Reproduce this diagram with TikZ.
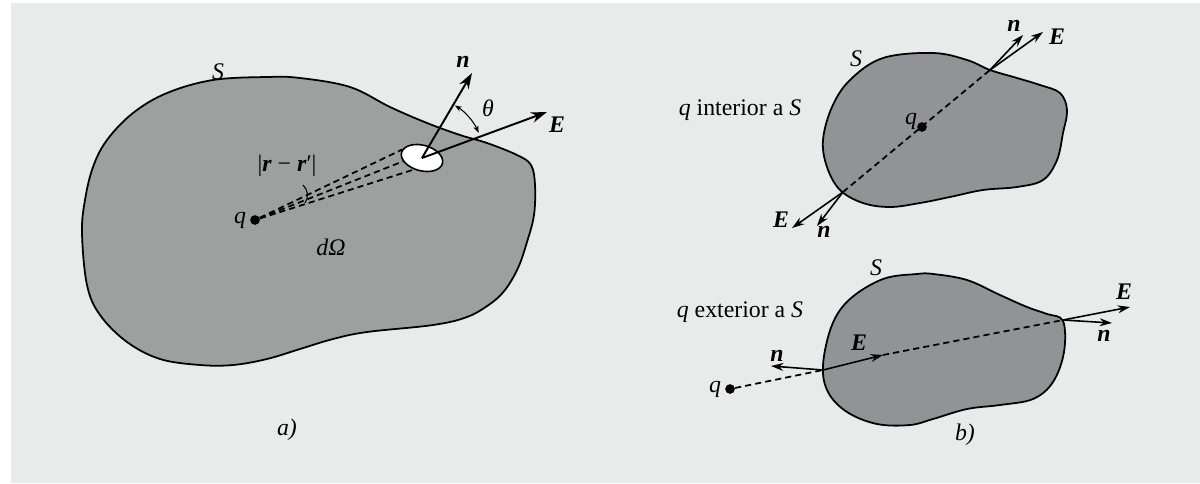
\documentclass[tikz,border=0pt]{standalone}
\usepackage{fontspec}
\setmainfont{Liberation Serif}
\usetikzlibrary{arrows.meta,positioning,shapes.geometric}

\definecolor{paper}{RGB}{233,234,234}
\definecolor{blobgray}{RGB}{156,160,159}
\definecolor{blobgrayb}{RGB}{146,147,150}

\newcommand{\bv}[1]{\textbf{\textit{#1}}}

\begin{document}
\begin{tikzpicture}[x=0.567pt,y=-0.567pt,
  lbl/.style={font=\fontsize{13.5}{16}\selectfont,inner sep=1pt},
  vec/.style={line width=1.1pt,-{Stealth[length=9pt,width=6pt]}},
  vecb/.style={line width=0.9pt,-{Stealth[length=7pt,width=4.5pt]}},
  ray/.style={line width=1pt,dash pattern=on 3.5pt off 2.3pt},
  surf/.style={line width=1pt,fill=blobgray},
  charge/.style={circle,fill=black,inner sep=0pt,minimum size=5.5pt}]
\useasboundingbox (0,0) rectangle (1200,483);
\fill[white] (0,0) rectangle (1200,483);
\fill[paper] (11,3) rectangle (1200,483);

% a) surface with charge inside
\draw[surf] plot[smooth cycle,tension=0.6] coordinates {
  (82,233) (85,200) (93,167) (107,140) (133,113) (167,93) (213,80) (267,77)
  (300,78) (350,87) (390,107) (427,123) (460,135) (487,143) (517,155)
  (531,165) (535,185) (534,215) (527,242) (518,268) (505,290) (490,304)
  (467,317) (433,325) (367,332) (333,339) (300,349) (267,359) (233,365)
  (200,365) (160,359) (127,342) (100,315) (87,285)};

\node[charge] (qa) at (255,220) {};
\node[lbl,left=1pt of qa] (qalbl) {\textit{q}};
\node[draw,ellipse,fill=white,line width=0.9pt,minimum width=24pt,
      minimum height=14.5pt,inner sep=0pt,rotate=-15] (hole) at (422,158) {};

\draw[ray] (qa) -- (hole.172);
\draw[ray] (qa) -- (hole.205);
\draw[ray] (qa) -- (hole.250);
\draw[line width=0.6pt] (303,185) .. controls (308,190) and (309,197) .. (305,203);

\coordinate (na) at (472,73);
\coordinate (Ea) at (547,112);
\draw[vec] (hole.center) -- (na);
\draw[vec] (hole.center) -- (Ea);
\draw[line width=0.6pt,{Stealth[length=4pt,width=3pt]}-{Stealth[length=4pt,width=3pt]}]
  ([shift={(-58:62)}]hole.center) arc[start angle=-58,end angle=-24,radius=62];

\node[lbl] (nalbl) at (463,62) {\bv{n}};
\node[lbl] (Ealbl) at (557,125) {\bv{E}};
\node[lbl] (theta) at (488,108) {\textit{θ}};
\node[lbl] (Sa) at (218,72) {\textit{S}};
\node[lbl] (dist) at (287,166) {|\bv{r} − \bv{r}′|};
\node[lbl] (dOmega) at (331,247) {\textit{d}\textit{Ω}};
\node[lbl] (cap_a) at (287,430) {\textit{a)}};

% b) charge inside
\draw[surf,fill=blobgrayb] plot[smooth cycle,tension=0.6] coordinates {
  (883,58) (933,53) (967,60) (990,70) (1017,78) (1040,85) (1060,93)
  (1067,110) (1063,133) (1057,160) (1043,180) (1017,187) (983,190)
  (950,197) (920,203) (890,207) (863,203) (840,190) (827,167) (823,140)
  (832,107) (850,80)};

\node[charge] (qb) at (922,127) {};
\node[lbl] (qblbl) at (911,121) {\textit{q}};
\coordinate (lowB) at (843,192);
\coordinate (upB) at (990,70);
\draw[ray] (lowB) -- (upB);
\draw[vecb] (upB) -- (1023,35) coordinate (nb1);
\draw[vecb] (upB) -- (1043,32) coordinate (Eb1);
\draw[vecb] (lowB) -- (792,228) coordinate (Eb2);
\draw[vecb] (lowB) -- (817,226) coordinate (nb2);

\node[lbl] (nb1lbl) at (1014,26) {\bv{n}};
\node[lbl] (Eb1lbl) at (1057,37) {\bv{E}};
\node[lbl] (Eb2lbl) at (781,220) {\bv{E}};
\node[lbl] (nb2lbl) at (824,232) {\bv{n}};
\node[lbl] (Sb1) at (856,59) {\textit{S}};
\node[lbl] (inlbl) at (740,110) {\textit{q} interior a \textit{S}};

% b) charge outside
\draw[surf,fill=blobgrayb] plot[smooth cycle,tension=0.6] coordinates {
  (883,279) (917,274) (933,274) (967,280) (1000,295) (1027,307) (1047,314)
  (1063,321) (1064,352) (1053,382) (1033,399) (1000,405) (967,409)
  (933,419) (910,425) (877,424) (847,412) (828,392) (823,365) (832,325)
  (850,299)};

\node[charge] (qc) at (730,389) {};
\node[lbl,left=1pt of qc] (qclbl) {\textit{q}};
\coordinate (enterC) at (823,370);
\coordinate (Ec) at (883,355);
\coordinate (exitC) at (1063,320);
\draw[ray] (qc) -- (enterC);
\draw[ray] (Ec) -- (exitC);
\draw[vecb] (enterC) -- (771,366) coordinate (nc1);
\draw[vecb] (enterC) -- (Ec);
\draw[vecb] (exitC) -- (1130,307) coordinate (Ec2);
\draw[vecb] (exitC) -- (1112,323) coordinate (nc2);

\node[lbl] (nc1lbl) at (777,356) {\bv{n}};
\node[lbl] (Eclbl) at (859,343) {\bv{E}};
\node[lbl] (Ec2lbl) at (1124,292) {\bv{E}};
\node[lbl] (nc2lbl) at (1104,336) {\bv{n}};
\node[lbl] (Sb2) at (876,268) {\textit{S}};
\node[lbl] (outlbl) at (740,312) {\textit{q} exterior a \textit{S}};
\node[lbl] (cap_b) at (965,435) {\textit{b)}};
\end{tikzpicture}
\end{document}
